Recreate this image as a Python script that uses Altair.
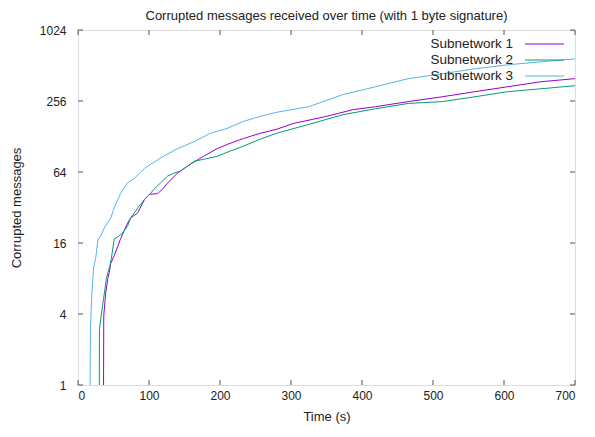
import altair as alt
import pandas as pd

# Subnetwork 1 (purple)
t1 = [36, 36.3, 39, 42, 44, 46, 51, 56, 60, 66, 70, 74, 84, 94, 101, 112, 119, 126, 140, 158, 177, 196, 214, 233, 256, 279, 303, 349, 387, 419, 465, 513, 559, 605, 652, 700]
v1 = [1, 3.9, 6, 8, 9, 10.7, 12.5, 15, 17.4, 21, 23.6, 26, 28.8, 37.7, 41.4, 42, 45.7, 51.5, 62.6, 74.5, 87, 101, 112, 123, 136, 147, 165, 189, 216, 229, 253, 278, 307, 338, 373, 396]
# Subnetwork 2 (green)
t2 = [30, 30.2, 33, 40, 45, 47, 51, 56, 63, 70, 74, 84, 94, 101, 107, 116, 126, 135, 144, 154, 164, 177, 196, 214, 233, 256, 279, 325, 373, 419, 465, 513, 559, 605, 652, 700]
v2 = [1, 3, 4, 8, 10.3, 11.8, 17.4, 18, 19.5, 22.4, 26, 31.6, 37.7, 41.4, 45.7, 51.5, 59, 62.6, 65, 71.6, 79, 82, 87, 96, 106, 121, 136, 162, 196, 220, 244, 253, 278, 307, 325, 345]
# Subnetwork 3 (blue)
t3 = [17, 17.5, 19.5, 22, 25, 28, 32, 38, 46, 52, 60, 70, 80, 94, 116, 140, 164, 186, 210, 233, 256, 279, 325, 373, 419, 465, 513, 559, 605, 652, 700]
v3 = [1, 3, 6, 10, 12, 17, 18.5, 22, 26, 33, 42, 52, 57, 69, 84, 101, 116, 136, 150, 172, 189, 205, 229, 290, 338, 396, 436, 480, 519, 550, 583]

names = ["Subnetwork 1", "Subnetwork 2", "Subnetwork 3"]
colors = ["#9400d3", "#009e73", "#56b4e9"]

x_ticks = [0, 100, 200, 300, 400, 500, 600, 700]
y_ticks = [1, 4, 16, 64, 256, 1024]

W, H = 497, 355
FONT = "Liberation Sans"

rows = []
for name, ts, vs in zip(names, [t1, t2, t3], [v1, v2, v3]):
    for t, v in zip(ts, vs):
        rows.append({"series": name, "t": t, "v": v})
df = pd.DataFrame(rows)

xs = alt.Scale(domain=[0, 700], nice=False, zero=False)
ys = alt.Scale(type="log", base=2, domain=[1, 1024], nice=False)

base_x = alt.X("t:Q", scale=xs, title="Time (s)",
               axis=alt.Axis(values=x_ticks, ticks=False, grid=False, domain=False, format="d",
                             labelPadding=5, titlePadding=9, labelFontSize=12,
                             titleFontSize=13, labelColor="#222", titleColor="#222",
                             labelFont=FONT, titleFont=FONT, titleFontWeight="normal"))
base_y = alt.Y("v:Q", scale=ys, title="Corrupted messages",
               axis=alt.Axis(values=y_ticks, ticks=False, grid=False, domain=False, format="d",
                             labelPadding=12, titlePadding=16, labelFontSize=12,
                             titleFontSize=13, labelColor="#222", titleColor="#222",
                             labelFont=FONT, titleFont=FONT, titleFontWeight="normal"))

lines = alt.Chart(df).mark_line(interpolate="linear", strokeWidth=1, clip=True).encode(
    x=base_x,
    y=base_y,
    color=alt.Color("series:N", scale=alt.Scale(domain=names, range=colors), legend=None),
    detail="series:N",
)

xt = pd.DataFrame({"t": x_ticks})
yt = pd.DataFrame({"v": y_ticks})
tick_col = "#555"
xb = alt.Chart(xt).mark_rule(color=tick_col, strokeWidth=1).encode(
    x=alt.X("t:Q", scale=xs), y=alt.value(H), y2=alt.value(H - 5))
xtop = alt.Chart(xt).mark_rule(color=tick_col, strokeWidth=1).encode(
    x=alt.X("t:Q", scale=xs), y=alt.value(0), y2=alt.value(5))
yl = alt.Chart(yt).mark_rule(color=tick_col, strokeWidth=1).encode(
    y=alt.Y("v:Q", scale=ys), x=alt.value(0), x2=alt.value(5))
yr = alt.Chart(yt).mark_rule(color=tick_col, strokeWidth=1).encode(
    y=alt.Y("v:Q", scale=ys), x=alt.value(W - 5), x2=alt.value(W))

legend_layers = []
row_y = [14, 30, 46]
for name, col, ry in zip(names, colors, row_y):
    ld = pd.DataFrame({"series": [name]})
    legend_layers.append(
        alt.Chart(ld).mark_text(align="right", baseline="middle", fontSize=13.5,
                                font=FONT, color="#222").encode(
            text="series:N", x=alt.value(435), y=alt.value(ry)))
    legend_layers.append(
        alt.Chart(ld).mark_rule(color=col, strokeWidth=1).encode(
            x=alt.value(447), x2=alt.value(486), y=alt.value(ry)))

chart = alt.layer(lines, xb, xtop, yl, yr, *legend_layers).properties(
    width=W, height=H,
    title=alt.TitleParams("Corrupted messages received over time (with 1 byte signature)",
                          fontSize=13, font=FONT, fontWeight="normal", color="#222",
                          offset=1, frame="group"),
    autosize="none",
    padding={"left": 70, "top": 22, "right": 12, "bottom": 42},
).configure_view(stroke="#555", strokeWidth=1).configure(background="white")

chart.save("out.html", embed_options={"renderer": "svg", "actions": False})
